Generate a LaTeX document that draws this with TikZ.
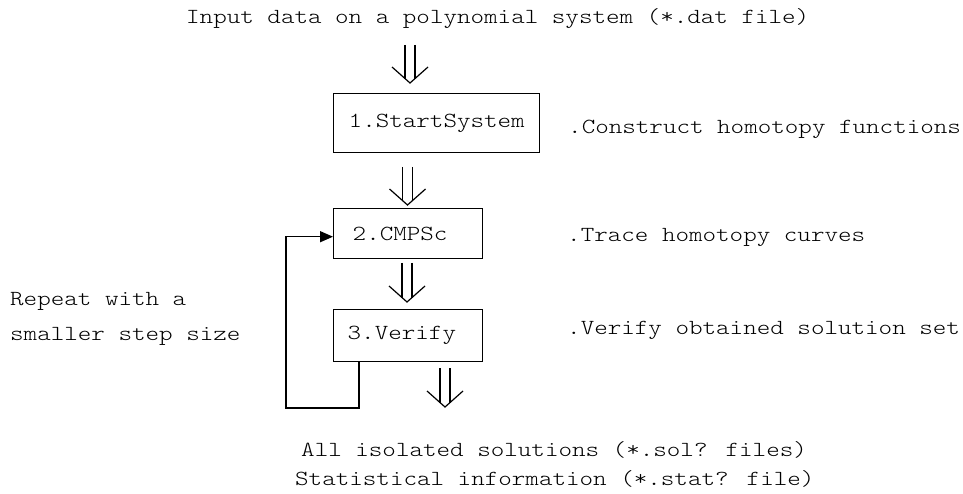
\documentclass[tikz,border=0pt]{standalone}
\usepackage{fontspec}
\newfontfamily\cour[FakeStretch=1.2]{Latin Modern Mono Light}
\usetikzlibrary{calc,arrows.meta}
\tikzset{
  txt/.style={font=\cour\fontsize{21.5}{29}\selectfont, inner sep=0pt, anchor=base west},
  stepbox/.style={draw, line width=1.4pt, font=\cour\fontsize{21.5}{29}\selectfont,
                  align=left, anchor=north west, inner ysep=0pt},
  dblar/.style={line width=1.2pt},
  fbline/.style={line width=1.4pt, -{Triangle[length=13pt,width=11pt]}}
}
\newcommand\dblarr[2]{%
  \draw[dblar] ($(#1)+(-5,0)$) -- ($(#2)+(-5,-4)$);
  \draw[dblar] ($(#1)+(5,0)$) -- ($(#2)+(5,-4)$);
  \draw[dblar] ($(#2)+(-18,-16)$) -- (#2) -- ($(#2)+(18,-16)$);
}
\begin{document}
\begin{tikzpicture}[x=1pt,y=-1pt]
  \useasboundingbox[fill=white] (0,0) rectangle (963,494);

  % texts
  \node[txt] (inp) at (186,24) {Input data on a polynomial system (*.dat file)};
  \node[txt] (r1) at (568,134) {.Construct homotopy functions};
  \node[txt] (r2) at (567,242) {.Trace homotopy curves};
  \node[txt] (r3) at (567,334) {.Verify obtained solution set};
  \node[txt] (l1) at (10,305) {Repeat with a};
  \node[txt] (l2) at (10,340) {smaller step size};
  \node[txt] (o1) at (301,456) {All isolated solutions (*.sol? files)};
  \node[txt] (o2) at (295,485) {Statistical information (*.stat? file)};

  % boxes
  \node[stepbox, inner xsep=15pt, text width=176pt, minimum height=59pt] (s1) at (333,93) {1.StartSystem};
  \node[stepbox, inner xsep=19pt, text width=111pt, minimum height=50pt] (s2) at (333,208) {2.CMPSc};
  \node[stepbox, inner xsep=14pt, text width=121pt, minimum height=52pt] (s3) at (333,309) {3.Verify};

  % double arrows
  \coordinate (a1t) at (410,45);  \coordinate (a1h) at (410,83);
  \coordinate (a2t) at (407.5,167); \coordinate (a2h) at (407.5,205);
  \coordinate (a3t) at (407,263); \coordinate (a3h) at (407,302);
  \coordinate (a4t) at (445,368); \coordinate (a4h) at (445,407);
  \dblarr{a1t}{a1h}
  \dblarr{a2t}{a2h}
  \dblarr{a3t}{a3h}
  \dblarr{a4t}{a4h}

  % feedback loop
  \coordinate (fb) at (286,408);
  \draw[fbline] ($(s3.south west)+(26,0)$) |- (fb) |- ($(s2.west)+(0,3)$);
\end{tikzpicture}
\end{document}
